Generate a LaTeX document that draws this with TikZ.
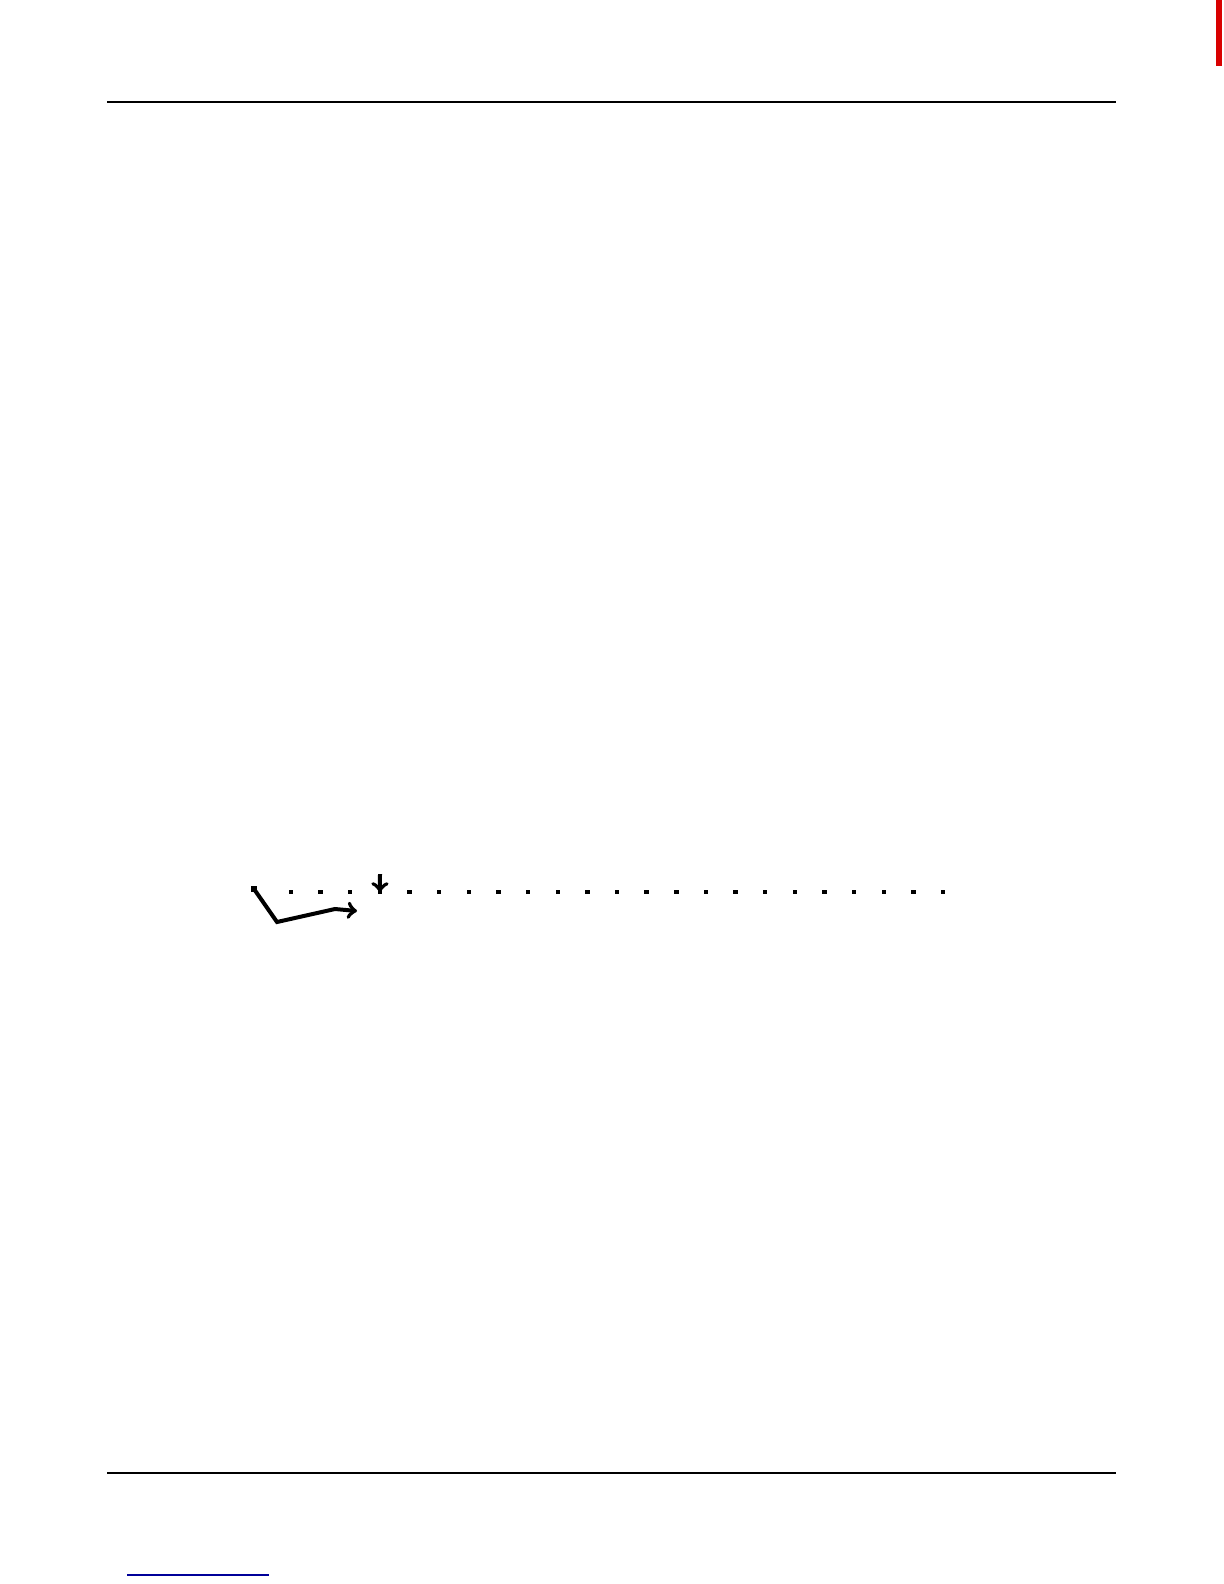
\documentclass[tikz,border=0pt]{standalone}
\usepackage{tikz}
\usetikzlibrary{calc}
\usetikzlibrary{shapes.geometric, arrows}
\tikzstyle{dot} = [rectangle, fill=black, inner sep=0pt, minimum size=2.2pt]
\tikzstyle{rule} = [line width=0.9pt]
\tikzstyle{arrow} = [line width=2pt,->,>=to]

\begin{document}
\begin{tikzpicture}[x=0.5pt,y=-0.5pt]
    \useasboundingbox (0,0) rectangle (1224,1584);

    % page rules
    \coordinate (topL) at (107,102);
    \coordinate (topR) at (1116,102);
    \coordinate (botL) at (107,1473);
    \coordinate (botR) at (1116,1473);
    \draw[rule] (topL) -- (topR);
    \draw[rule] (botL) -- (botR);

    % link underline and side mark
    \coordinate (linkL) at (127,1575);
    \coordinate (linkR) at (269,1575);
    \draw[blue!60!black, line width=0.6pt] (linkL) -- (linkR);
    \fill[red!85!black] (1216,0) rectangle (1222,66);

    % draw dotted track
    \foreach \i in {0,...,22}
        \node[dot] (d\i) at ({291+29.64*\i},892) {};

    % draw bent arrow
    \node[dot, minimum size=3.2pt] (start) at (254,889) {};
    \coordinate (bend) at (277,922);
    \coordinate (joint) at (335,909);
    \coordinate (tip) at (357,911);
    \draw[arrow] (start.center) -- (bend) -- (joint) -- (tip);

    % draw drop arrow
    \coordinate (drop) at (380,874);
    \draw[arrow] (drop) -- (d3.center);
\end{tikzpicture}
\end{document}
